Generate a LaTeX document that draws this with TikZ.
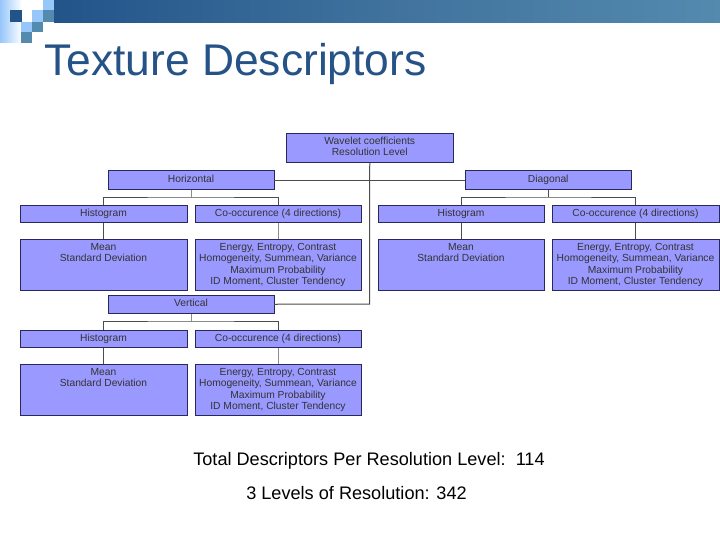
\documentclass[tikz,border=0pt]{standalone}
\usepackage{fontspec}
\setmainfont{Liberation Sans}
\definecolor{boxfill}{RGB}{153,153,255}
\definecolor{boxline}{RGB}{40,40,90}
\definecolor{titleblue}{RGB}{38,83,135}
\definecolor{barleft}{RGB}{34,84,138}
\definecolor{barmid}{RGB}{62,112,156}
\definecolor{barright}{RGB}{84,138,174}
\definecolor{glow}{RGB}{150,198,250}
\tikzset{
  link/.style={draw=black!70,line width=0.75pt},
  softlink/.style={draw=black!45,line width=0.75pt},
  boxtext/.style={inner sep=0pt,outer sep=0pt,align=center,font=\fontsize{7.7}{8.4}\selectfont,text=black!80,anchor=north},
  captext/.style={inner sep=0pt,anchor=center,font=\fontsize{13.6}{15}\selectfont}
}
\newcommand{\pbox}[6]{% name, x0, y0, x1, y1, text
  \path[draw=boxline,fill=boxfill,line width=0.75pt] (#2,#3) rectangle (#4,#5);
  \node[boxtext] (#1-t) at ({(#2+#4)/2},{#3+3.7}) {\rule{0pt}{6pt}#6};
  \coordinate (#1-n) at ({(#2+#4)/2},#3);
  \coordinate (#1-s) at ({(#2+#4)/2},#5);
  \coordinate (#1-w) at (#2,{(#3+#5)/2});
  \coordinate (#1-e) at (#4,{(#3+#5)/2});
}
\begin{document}
\begin{tikzpicture}[x=0.75pt,y=-0.75pt]
\useasboundingbox (0,0) rectangle (720,540);
% header
\fill[left color=barleft,right color=barmid] (54,0) rectangle (360,22);
\fill[left color=barmid,right color=barright] (360,0) rectangle (720,22);
\fill[left color=glow,right color=white] (0,0) rectangle (22,42);
\fill[glow] (43,0) rectangle (54,10);
\fill[barleft] (10,10) rectangle (22,22);
\fill[glow] (32,10) rectangle (43,22);
\fill[barright] (43,10) rectangle (54,22);
\fill[glow] (21,22) rectangle (32,32);
\fill[barright] (32,22) rectangle (43,32);
\fill[barright] (21,32) rectangle (32,43);
\node[anchor=west,inner sep=0pt,text=titleblue,font=\fontsize{33.3}{36}\selectfont] (title) at (44,64) {Texture Descriptors};
% boxes
\pbox{root}{286.5}{133}{453}{162.5}{Wavelet coefficients\\Resolution Level}
\pbox{hor}{108}{170.5}{274}{189.5}{Horizontal}
\pbox{diag}{465}{170.5}{631.5}{189.5}{Diagonal}
\pbox{ver}{108}{295}{274}{313.5}{Vertical}
\pbox{hh}{20}{205}{187}{222.5}{Histogram}
\pbox{hc}{195}{205}{361}{222.5}{Co-occurence (4 directions)}
\pbox{hm}{20}{239}{187}{290.5}{Mean\\Standard Deviation}
\pbox{he}{195}{239}{361}{290.5}{Energy, Entropy, Contrast\\Homogeneity, Summean, Variance\\Maximum Probability\\ID Moment, Cluster Tendency}
\pbox{dh}{378}{205}{544}{222.5}{Histogram}
\pbox{dc}{552}{205}{719}{222.5}{Co-occurence (4 directions)}
\pbox{dm}{378}{239}{544}{290.5}{Mean\\Standard Deviation}
\pbox{de}{552}{239}{719}{290.5}{Energy, Entropy, Contrast\\Homogeneity, Summean, Variance\\Maximum Probability\\ID Moment, Cluster Tendency}
\pbox{vh}{20}{330}{187}{347.5}{Histogram}
\pbox{vc}{195}{330}{361}{347.5}{Co-occurence (4 directions)}
\pbox{vm}{20}{364}{187}{415}{Mean\\Standard Deviation}
\pbox{ve}{195}{364}{361}{415}{Energy, Entropy, Contrast\\Homogeneity, Summean, Variance\\Maximum Probability\\ID Moment, Cluster Tendency}
% connectors
\draw[link] (hor-e) -- (diag-w);
\draw[link] (root-s) -- (369.5,304) -- (ver-e);
\draw[softlink] (hor-s) -- ++(0,7.5) coordinate (hb);
\draw[link] (hh-n) |- (hb) -| (hc-n);
\draw[link] (diag-s) -- ++(0,7.5) coordinate (db);
\draw[link] (dh-n) |- (db) -| (dc-n);
\draw[softlink] (ver-s) -- ++(0,7.5) coordinate (vb);
\draw[link] (vh-n) |- (vb) -| (vc-n);
\draw[link] (hh-s) -- (hm-n);
\draw[softlink] (hc-s) -- (he-n);
\draw[link] (dh-s) -- (dm-n);
\draw[link] (dc-s) -- (de-n);
\draw[link] (vh-s) -- (vm-n);
\draw[softlink] (vc-s) -- (ve-n);
% captions
\node[captext] (cap1) at (369,461) {Total Descriptors Per Resolution Level:\ \ 114};
\node[captext] (cap2) at (356.5,493.5) {3 Levels of Resolution: 342};
\end{tikzpicture}
\end{document}
